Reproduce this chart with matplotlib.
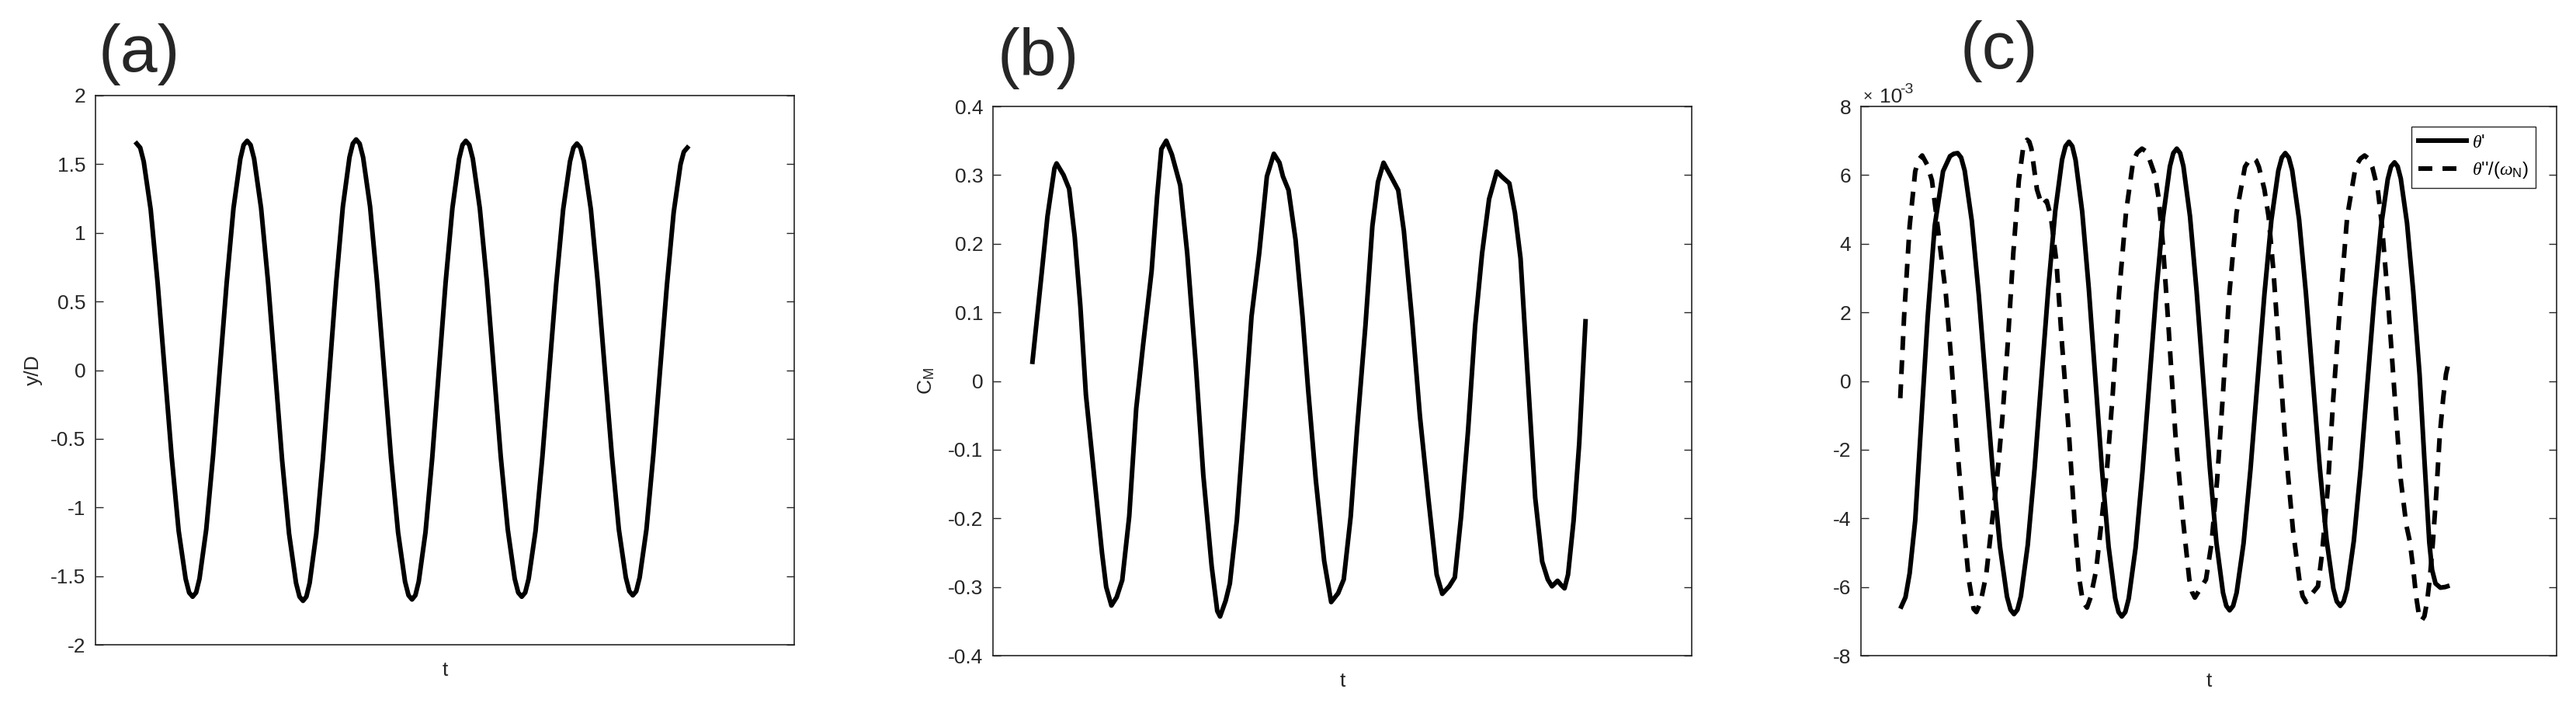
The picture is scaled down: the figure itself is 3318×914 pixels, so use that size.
import matplotlib
matplotlib.use("Agg")
import matplotlib.pyplot as plt

# ---------------------------
# Data (t is in arbitrary units, 0..100 across each axes)
# ---------------------------
# (a) y/D
a_t = [5.9, 6.4, 6.9, 7.9, 8.9, 9.9, 10.9, 11.9, 12.9, 13.4, 13.9, 14.4,
       14.88, 15.85, 16.83, 17.8, 18.78, 19.75, 20.73, 21.2, 21.7, 22.2,
       22.7, 23.7, 24.7, 25.7, 26.7, 27.7, 28.7, 29.2, 29.7, 30.18,
       30.65, 31.6, 32.55, 33.5, 34.45, 35.4, 36.35, 36.83, 37.3, 37.8,
       38.3, 39.3, 40.3, 41.3, 42.3, 43.3, 44.3, 44.8, 45.3, 45.78,
       46.26, 47.23, 48.19, 49.15, 50.11, 51.08, 52.04, 52.52, 53.0, 53.5,
       54.0, 55.0, 56.0, 57.0, 58.0, 59.0, 60.0, 60.5, 61.0, 61.5,
       61.99, 62.98, 63.96, 64.95, 65.94, 66.93, 67.91, 68.4, 68.9, 69.4,
       69.9, 70.9, 71.9, 72.9, 73.9, 74.9, 75.9, 76.4, 76.9, 77.39,
       77.88, 78.85, 79.83, 80.8, 81.78, 82.75, 83.73, 84.2, 84.7]
a_y = [1.65, 1.62, 1.52, 1.17, 0.63, 0.00, -0.63, -1.17, -1.52, -1.62, -1.65, -1.62,
       -1.52, -1.16, -0.62, 0.01, 0.64, 1.18, 1.54, 1.64, 1.67, 1.64,
       1.54, 1.18, 0.64, 0.00, -0.65, -1.19, -1.55, -1.65, -1.68, -1.65,
       -1.55, -1.19, -0.64, 0.00, 0.64, 1.19, 1.55, 1.65, 1.68, 1.65,
       1.55, 1.19, 0.64, 0.00, -0.64, -1.18, -1.54, -1.64, -1.67, -1.64,
       -1.54, -1.18, -0.64, 0.00, 0.64, 1.18, 1.54, 1.64, 1.67, 1.64,
       1.54, 1.18, 0.65, 0.01, -0.63, -1.16, -1.52, -1.62, -1.65, -1.62,
       -1.52, -1.17, -0.63, 0.00, 0.63, 1.17, 1.52, 1.62, 1.65, 1.62,
       1.52, 1.17, 0.63, 0.00, -0.62, -1.16, -1.51, -1.61, -1.64, -1.61,
       -1.51, -1.16, -0.62, 0.00, 0.62, 1.15, 1.50, 1.59, 1.62]

# (b) C_M
b_t = [5.65, 7.0, 7.8, 8.8, 9.1, 10.1, 10.9, 11.7, 12.5, 13.3,
       14.4, 15.6, 16.2, 16.95, 17.7, 18.5, 19.5, 20.5, 21.5, 22.7,
       23.5, 24.1, 24.8, 25.6, 26.8, 27.8, 29.0, 30.1, 31.3, 32.1,
       32.5, 33.3, 33.9, 34.9, 35.8, 37.0, 38.1, 39.2, 40.2, 41.0,
       41.5, 42.3, 43.3, 44.3, 45.1, 46.2, 47.4, 48.4, 49.4, 50.2,
       51.2, 52.1, 53.3, 54.3, 55.1, 55.9, 56.8, 58.0, 58.8, 60.0,
       61.1, 62.3, 63.5, 64.3, 65.3, 66.1, 67.0, 68.0, 69.0, 70.0,
       71.0, 72.1, 72.9, 73.9, 74.7, 75.5, 76.4, 77.6, 78.6, 79.4,
       80.0, 80.8, 81.3, 81.8, 82.3, 83.1, 83.9, 84.8]
b_y = [0.028, 0.16, 0.24, 0.31, 0.317, 0.30, 0.28, 0.21, 0.11, -0.02,
       -0.13, -0.25, -0.30, -0.327, -0.315, -0.29, -0.197, -0.04, 0.054, 0.16,
       0.27, 0.338, 0.35, 0.33, 0.285, 0.186, 0.028, -0.137, -0.27, -0.335,
       -0.343, -0.32, -0.295, -0.203, -0.078, 0.094, 0.186, 0.298, 0.331, 0.318,
       0.298, 0.278, 0.206, 0.094, -0.012, -0.144, -0.262, -0.322, -0.309, -0.289,
       -0.197, -0.071, 0.08, 0.226, 0.29, 0.318, 0.301, 0.278, 0.219, 0.087,
       -0.051, -0.17, -0.282, -0.31, -0.299, -0.286, -0.197, -0.071, 0.08, 0.186,
       0.265, 0.305, 0.297, 0.288, 0.245, 0.179, 0.028, -0.17, -0.263, -0.289,
       -0.299, -0.291, -0.297, -0.302, -0.282, -0.203, -0.091, 0.087]

# (c) theta' and theta''/(omega_N), in units of 1e-3
c1_t = [5.8, 6.4, 7.0, 7.8, 8.6, 9.6, 10.6, 11.8, 12.8, 13.35, 13.9, 14.4,
        14.91, 15.93, 16.94, 17.95, 18.96, 19.98, 20.99, 21.5, 22.0, 22.5,
        22.99, 23.98, 24.96, 25.95, 26.94, 27.93, 28.91, 29.4, 29.9, 30.38,
        30.85, 31.8, 32.75, 33.7, 34.65, 35.6, 36.55, 37.03, 37.5, 38.0,
        38.49, 39.48, 40.46, 41.45, 42.44, 43.43, 44.41, 44.9, 45.4, 45.88,
        46.35, 47.3, 48.25, 49.2, 50.15, 51.1, 52.05, 52.52, 53.0, 53.5,
        54.0, 55.0, 56.0, 57.0, 58.0, 59.0, 60.0, 60.5, 61.0, 61.5,
        61.99, 62.98, 63.96, 64.95, 65.94, 66.93, 67.91, 68.4, 68.9, 69.39,
        69.88, 70.85, 71.83, 72.8, 73.78, 74.75, 75.73, 76.2, 76.7, 77.15,
        77.6, 78.5, 79.4, 80.3, 81.0, 81.7, 82.1, 82.6, 83.3, 84.0, 84.3]
c1_y = [-6.57, -6.3, -5.6, -4.06, -1.42, 1.88, 4.52, 6.11, 6.55, 6.62, 6.64, 6.51,
        6.13, 4.67, 2.50, -0.08, -2.65, -4.82, -6.28, -6.66, -6.79, -6.66,
        -6.27, -4.77, -2.55, 0.09, 2.72, 4.95, 6.45, 6.84, 6.97, 6.84,
        6.44, 4.94, 2.70, 0.06, -2.59, -4.83, -6.33, -6.73, -6.86, -6.73,
        -6.34, -4.86, -2.66, -0.05, 2.56, 4.77, 6.25, 6.64, 6.77, 6.64,
        6.26, 4.80, 2.62, 0.05, -2.53, -4.71, -6.17, -6.55, -6.68, -6.55,
        -6.17, -4.73, -2.57, -0.02, 2.53, 4.69, 6.13, 6.51, 6.64, 6.51,
        6.14, 4.71, 2.57, 0.05, -2.48, -4.62, -6.05, -6.42, -6.55, -6.42,
        -6.06, -4.66, -2.56, -0.09, 2.38, 4.48, 5.88, 6.25, 6.37, 6.25,
        5.9, 4.6, 2.6, 0.2, -2.3, -4.7, -5.5, -5.9, -6.02, -6.0, -5.98]

c2_t = [5.65, 6.2, 7.0, 7.8, 8.3, 8.8, 9.5, 10.2, 10.7, 11.4, 12.2,
        13.0, 13.8, 14.7, 15.5, 16.2, 16.6, 17.2, 18.0, 18.8, 19.6,
        20.3, 21.1, 21.9, 22.7, 23.3, 23.6, 23.9, 24.2, 24.5, 25.3, 26.0, 26.7,
        27.3, 28.1, 28.9, 29.9, 30.7, 31.4, 31.9, 32.5, 33.0, 33.8,
        34.6, 35.4, 36.2, 37.1, 38.1, 39.1, 39.7, 40.4, 40.9, 41.4, 42.3, 42.8,
        43.4, 44.2, 45.2, 46.3, 47.2, 47.6, 48.0, 48.8, 49.6, 50.4, 51.2,
        52.0, 52.9, 54.0, 55.2, 55.8, 56.4, 56.8, 57.2, 58.0, 58.6, 59.3, 60.2,
        61.1, 62.1, 63.1, 63.5, 64.0, 64.9, 65.7, 66.3, 67.1, 67.9, 68.9,
        69.9, 71.1, 71.8, 72.4, 73.0, 73.5, 74.3, 74.9, 75.7, 76.7, 77.6, 78.4,
        78.9, 79.4, 79.8, 80.2, 80.6, 81.0, 81.4, 81.8, 82.2, 82.7,
        83.2, 83.7, 84.1, 84.5]
c2_y = [-0.50, 1.88, 4.52, 6.11, 6.45, 6.57, 6.31, 5.85, 5.05, 3.86, 2.54,
        0.56, -1.82, -4.06, -5.78, -6.64, -6.73, -6.44, -5.65, -4.19, -2.75,
        -1.16, 1.09, 3.73, 5.85, 6.77, 6.97, 7.03, 6.97, 6.77, 5.58, 5.12, 5.25,
        4.79, 3.47, 1.09, -1.55, -4.06, -5.78, -6.44, -6.60, -6.31, -5.52,
        -4.06, -2.48, -0.36, 2.54, 4.91, 6.37, 6.65, 6.77, 6.70, 6.50, 5.98, 5.32,
        3.99, 1.62, -1.55, -4.06, -5.78, -6.15, -6.31, -6.04, -5.78, -4.72, -2.88,
        -0.50, 2.41, 4.91, 6.24, 6.43, 6.50, 6.43, 6.24, 5.58, 4.79, 3.20, 0.56,
        -2.08, -4.33, -5.91, -6.27, -6.44, -6.18, -5.98, -4.99, -3.14, -0.50, 2.28,
        4.79, 6.24, 6.48, 6.57, 6.47, 6.24, 5.58, 4.52, 2.54, -0.36, -2.88, -4.2,
        -4.67, -5.49, -6.26, -6.8, -6.98, -6.85, -6.4, -5.7, -4.74, -3.3,
        -1.6, -0.5, 0.2, 0.56]

# Axis ticks
a_ticks = [-2, -1.5, -1, -0.5, 0, 0.5, 1, 1.5, 2]
a_ticklabels = ["-2", "-1.5", "-1", "-0.5", "0", "0.5", "1", "1.5", "2"]
b_ticks = [-0.4, -0.3, -0.2, -0.1, 0, 0.1, 0.2, 0.3, 0.4]
b_ticklabels = ["-0.4", "-0.3", "-0.2", "-0.1", "0", "0.1", "0.2", "0.3", "0.4"]
c_ticks = [-8, -6, -4, -2, 0, 2, 4, 6, 8]
c_ticklabels = ["-8", "-6", "-4", "-2", "0", "2", "4", "6", "8"]

# ---------------------------
# Style
# ---------------------------
plt.rcParams.update({
    "font.family": ["Liberation Sans", "DejaVu Sans"],
    "axes.unicode_minus": False,
    "mathtext.fontset": "custom",
    "mathtext.rm": "Liberation Sans",
    "mathtext.sf": "Liberation Sans",
    "mathtext.it": "Liberation Serif:italic",
    "font.size": 19,
})

AX_COLOR = "#262626"
LW = 4.3
W, H = 3318, 914

fig = plt.figure(figsize=(W / 100, H / 100), dpi=100)
fig.patch.set_facecolor("white")


def add_ax(left, top, width, height):
    # positions given in pixels from the top-left corner
    return fig.add_axes([left / W, 1 - (top + height) / H, width / W, height / H])


def style_ax(ax, ticks, ticklabels, ylim, ylabel, ylabel_x):
    ax.set_xlim(0, 100)
    ax.set_ylim(*ylim)
    ax.set_xticks([])
    ax.set_yticks(ticks)
    ax.set_yticklabels(ticklabels)
    ax.tick_params(axis="y", direction="in", length=7.2, width=1.0,
                   left=True, right=True, colors=AX_COLOR, labelsize=19, pad=9)
    for spine in ax.spines.values():
        spine.set_linewidth(1.2)
        spine.set_edgecolor(AX_COLOR)
    ax.set_xlabel("t", fontsize=19, color=AX_COLOR)
    ax.xaxis.set_label_coords(0.5, -0.03)
    ax.set_ylabel(ylabel, fontsize=19, color=AX_COLOR)
    ax.yaxis.set_label_coords(ylabel_x, 0.5)


ax_a = add_ax(123, 123, 900, 707)
ax_b = add_ax(1279, 137, 900, 707)
ax_c = add_ax(2397, 137, 896, 707)

# (a)
ax_a.plot(a_t, a_y, color="black", linewidth=LW, solid_joinstyle="round")
style_ax(ax_a, a_ticks, a_ticklabels, (-2, 2), "y/D", -0.076)

# (b)
ax_b.plot(b_t, b_y, color="black", linewidth=LW, solid_joinstyle="round")
style_ax(ax_b, b_ticks, b_ticklabels, (-0.4, 0.4), r"C$_{\mathrm{M}}$", -0.081)

# (c)
ax_c.plot(c1_t, c1_y, color="black", linewidth=LW, solid_joinstyle="round",
          label=r"$\theta$'")
ax_c.plot(c2_t, c2_y, color="black", linewidth=LW, linestyle=(0, (3.0, 2.2)),
          label=r"$\theta$''/($\omega_{\mathrm{N}}$)")
style_ax(ax_c, c_ticks, c_ticklabels, (-8, 8), "", -0.08)

leg = ax_c.legend(loc="upper right", bbox_to_anchor=(0.970, 0.963),
                  borderaxespad=0, fontsize=17, frameon=True, fancybox=False,
                  edgecolor=AX_COLOR, framealpha=1.0, handlelength=2.6,
                  handletextpad=0.3, borderpad=0.4, labelspacing=0.5)
leg.get_frame().set_linewidth(1.0)

# exponent label above the (c) axis
ax_c.text(0.003, 1.009, "\u00d7", transform=ax_c.transAxes, fontsize=15,
          color=AX_COLOR, ha="left", va="baseline")
ax_c.text(0.027, 1.007, "10", transform=ax_c.transAxes, fontsize=19,
          color=AX_COLOR, ha="left", va="baseline")
ax_c.text(0.056, 1.024, "-3", transform=ax_c.transAxes, fontsize=14,
          color=AX_COLOR, ha="left", va="baseline")

# panel labels
for x_px, base_px, lab in [(127, 92, "(a)"), (1285, 97, "(b)"), (2525, 88, "(c)")]:
    fig.text(x_px / W, 1 - base_px / H, lab, fontsize=62, color=AX_COLOR,
             ha="left", va="baseline")

fig.savefig("out.png", dpi=100, facecolor="white")
